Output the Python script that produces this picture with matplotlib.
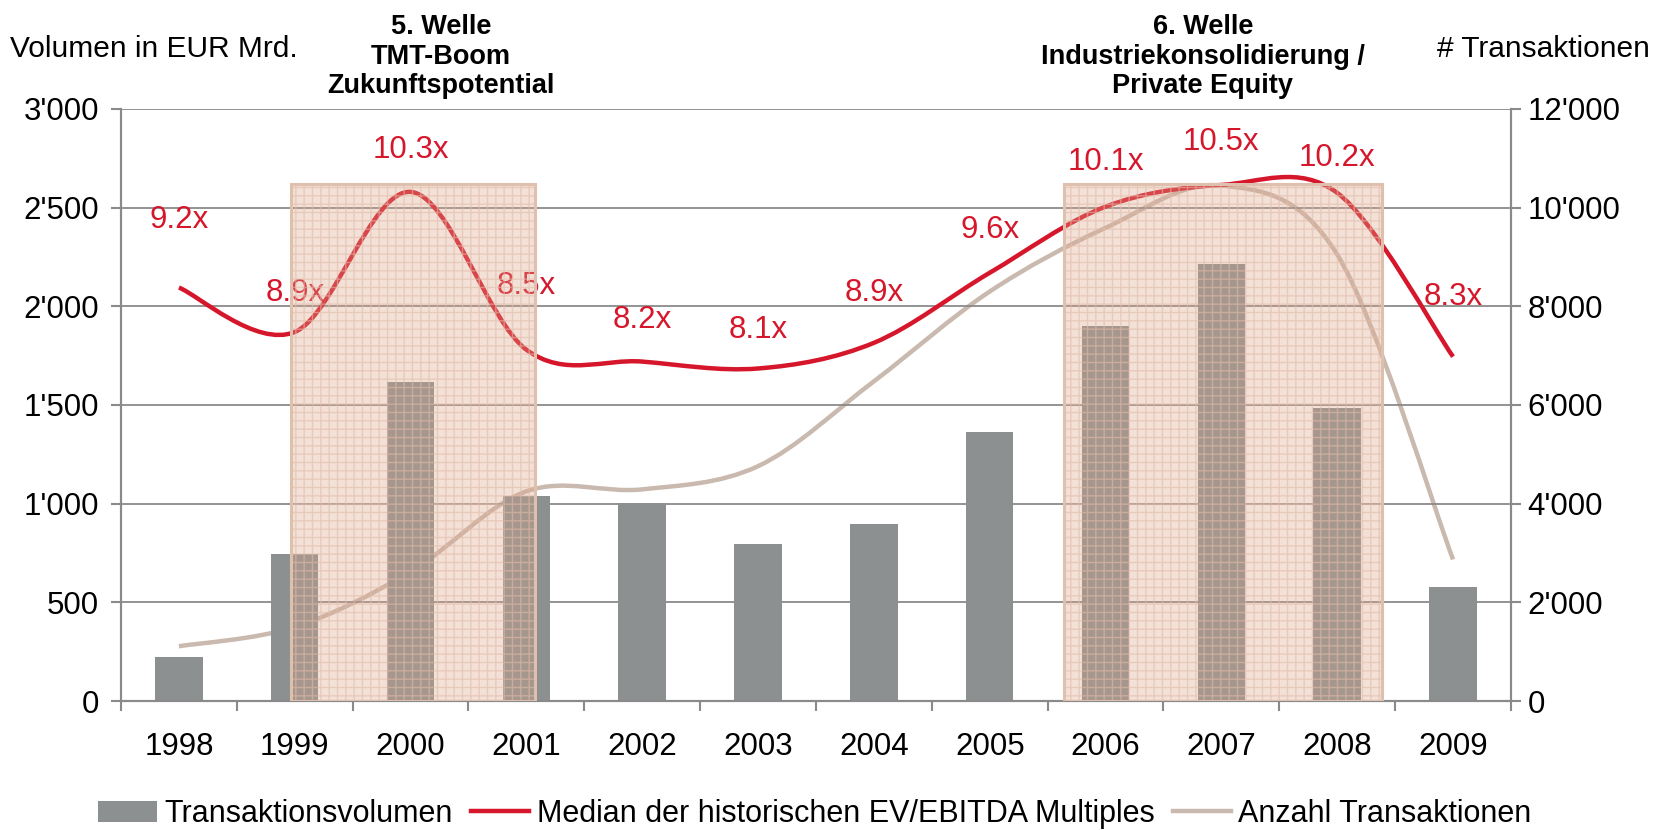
import matplotlib
matplotlib.use("Agg")
import matplotlib.pyplot as plt
from matplotlib.path import Path
from matplotlib.patches import PathPatch, Rectangle, Patch
from matplotlib.lines import Line2D
from matplotlib.ticker import FuncFormatter

plt.rcParams['font.family'] = ['Liberation Sans', 'DejaVu Sans']
plt.rcParams['hatch.linewidth'] = 1.0

# data
years = [1998, 1999, 2000, 2001, 2002, 2003, 2004, 2005, 2006, 2007, 2008, 2009]
volume = [225, 745, 1615, 1040, 1005, 795, 895, 1365, 1900, 2215, 1485, 580]
deals = [1110, 1500, 2620, 4250, 4290, 4760, 6480, 8300, 9590, 10450, 9050, 2870]
multiples = [9.2, 8.9, 10.3, 8.5, 8.2, 8.1, 8.9, 9.6, 10.1, 10.5, 10.2, 8.3]
# level of the multiples curve, in units of the left axis
multiple_level = [2095, 1870, 2580, 1780, 1720, 1685, 1815, 2170, 2505, 2615, 2575, 1745]
# label centre above the curve (points)
label_off = [49, 28, 30, 46, 30, 27.5, 35.7, 31, 32, 31, 25, 43]

waves = [("5. Welle\nTMT-Boom\nZukunftspotential", 1998.97, 2001.07, 2000.26),
         ("6. Welle\nIndustriekonsolidierung /\nPrivate Equity", 2005.64, 2008.39, 2006.84)]
wave_top = 2620

bar_col = '#8c9090'
red = '#d6162b'
tan = '#c9b9ae'
axis_col = '#8a8a8a'


def smooth_path(xs, ys):
    # Catmull-Rom segments as cubic Bezier, like the Excel smoothed line
    verts = [(xs[0], ys[0])]
    codes = [Path.MOVETO]
    n = len(xs)
    for i in range(n - 1):
        x0, y0 = (xs[i - 1], ys[i - 1]) if i > 0 else (xs[i], ys[i])
        x3, y3 = (xs[i + 2], ys[i + 2]) if i + 2 < n else (xs[i + 1], ys[i + 1])
        c1 = (xs[i] + (xs[i + 1] - x0) / 6, ys[i] + (ys[i + 1] - y0) / 6)
        c2 = (xs[i + 1] - (x3 - xs[i]) / 6, ys[i + 1] - (y3 - ys[i]) / 6)
        verts += [c1, c2, (xs[i + 1], ys[i + 1])]
        codes += [Path.CURVE4] * 3
    return Path(verts, codes)


fig = plt.figure(figsize=(16.6, 8.3), dpi=100)
ax = fig.add_axes([0.0729, 0.1554, 0.8373, 0.7133])
ax2 = ax.twinx()

ax.bar(years, volume, width=0.41, color=bar_col, zorder=2)

ax2.add_patch(PathPatch(smooth_path(years, deals), fill=False, edgecolor=tan, lw=3.2,
                        zorder=3, capstyle='butt'))
ax.add_patch(PathPatch(smooth_path(years, multiple_level), fill=False, edgecolor=red, lw=3.2,
                       zorder=4, capstyle='butt'))

for x, m, y, off in zip(years, multiples, multiple_level, label_off):
    ax.annotate(f"{m:.1f}x", (x, y), xytext=(0, off), textcoords='offset points',
                ha='center', va='center', color=red, fontsize=22.5, zorder=5)

ax.set_xlim(1997.5, 2009.5)
ax.set_ylim(0, 3000)
ax2.set_ylim(0, 12000)
ax.set_yticks(range(0, 3001, 500))
ax2.set_yticks(range(0, 12001, 2000))
fmt = FuncFormatter(lambda v, p: f"{int(v):,}".replace(',', "'"))
ax.yaxis.set_major_formatter(fmt)
ax2.yaxis.set_major_formatter(fmt)
ax.set_xticks(years)
ax.set_xticks([y - 0.5 for y in years] + [2009.5], minor=True)
ax.tick_params(axis='x', which='major', length=0, labelsize=22.5, pad=22)
ax.tick_params(axis='x', which='minor', length=7, width=1.5, color=axis_col)
ax.tick_params(axis='y', length=7, width=1.5, color=axis_col, labelsize=22.5, pad=9)
ax2.tick_params(axis='y', length=7, width=1.5, color=axis_col, labelsize=22.5, pad=5)
ax.grid(axis='y', color=axis_col, lw=1.3, zorder=0)
ax.set_axisbelow(True)
for a in (ax, ax2):
    a.spines['top'].set_visible(False)
    for s in ['left', 'right', 'bottom']:
        a.spines[s].set_color(axis_col)
        a.spines[s].set_linewidth(1.5)
ax2.set_zorder(ax.zorder - 1)
ax.patch.set_visible(False)

# shaded wave boxes on top of everything
for text, x0, x1, xt in waves:
    ax.add_patch(Rectangle((x0, 0), x1 - x0, wave_top, facecolor='#dda68a', alpha=0.33,
                           edgecolor='none', zorder=6))
    ax.add_patch(Rectangle((x0, 0), x1 - x0, wave_top, facecolor='none', hatch='++',
                           edgecolor='#e2bba7', lw=0, alpha=0.6, zorder=6))
    ax.add_patch(Rectangle((x0, 0), x1 - x0, wave_top, facecolor='none',
                           edgecolor='#dfc0ae', lw=2.2, zorder=7))
    ax.annotate(text, (xt, 3000), xytext=(0, 7), textcoords='offset points',
                ha='center', va='bottom', fontsize=19.5, fontweight='bold',
                linespacing=1.17, annotation_clip=False)

fig.text(0.006, 0.941, "Volumen in EUR Mrd.", fontsize=21.5, va='center', ha='left')
fig.text(0.994, 0.941, "# Transaktionen", fontsize=21.5, va='center', ha='right')

# legend
handles = [Patch(facecolor=bar_col, edgecolor='none'),
           Line2D([], [], color=red, lw=3.2),
           Line2D([], [], color=tan, lw=3.2)]
labels = ['Transaktionsvolumen', 'Median der historischen EV/EBITDA Multiples',
          'Anzahl Transaktionen']
fig.legend(handles, labels, loc='lower center', bbox_to_anchor=(0.491, -0.032), ncol=3,
           frameon=False, fontsize=22, handlelength=1.9, handletextpad=0.25,
           columnspacing=0.6, handleheight=0.7)

fig.savefig('out.png', dpi=100)
